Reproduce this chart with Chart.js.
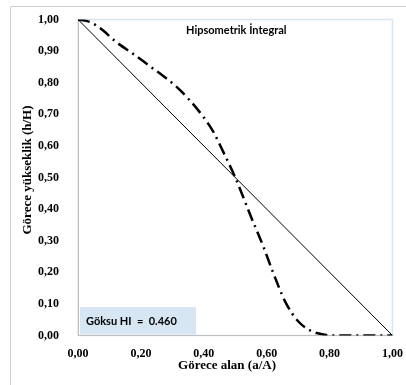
<!DOCTYPE html>
<html>
<head>
<meta charset="utf-8">
<script src="https://cdn.jsdelivr.net/npm/chart.js@4.4.1/dist/chart.umd.min.js"></script>
<style>
  html, body { margin: 0; padding: 0; background: #ffffff; }
  #wrap { position: relative; width: 406px; height: 385px; }
  canvas { display: block; }
</style>
</head>
<body>
<div id="wrap"><canvas id="c" width="406" height="385"></canvas></div>
<script>
// Hypsometric curve: relative area (a/A) against relative height (h/H)
const relArea   = [0.00, 0.03, 0.06, 0.08, 0.12, 0.18, 0.23, 0.27, 0.31, 0.35, 0.40, 0.43, 0.46, 0.50, 0.55, 0.59, 0.62, 0.66, 0.70, 0.74, 0.78, 0.82, 0.90, 1.00];
const relHeight = [1.00, 0.995, 0.98, 0.965, 0.93, 0.888, 0.851, 0.822, 0.79, 0.75, 0.69, 0.645, 0.585, 0.50, 0.376, 0.28, 0.20, 0.105, 0.045, 0.015, 0.003, 0.00, 0.00, 0.00];

// Reference diagonal (HI = 0.5)
const diagArea   = [0.00, 1.00];
const diagHeight = [1.00, 0.00];

const axisTicks = [0, 0.1, 0.2, 0.3, 0.4, 0.5, 0.6, 0.7, 0.8, 0.9, 1.0];
const chartTitle = 'Hipsometrik İntegral';
const xTitle = 'Görece alan (a/A)';
const yTitle = 'Görece yükseklik (h/H)';
const hiLabel = 'Göksu HI  =  0.460';

const serif = 'Liberation Serif, Times New Roman, serif';
const fmt = v => v.toFixed(2).replace('.', ',');

const decor = {
  id: 'decor',
  beforeDraw(chart) {
    const ctx = chart.ctx;
    const a = chart.chartArea;
    ctx.save();
    // outer frame
    ctx.strokeStyle = '#d0d0d0';
    ctx.lineWidth = 1;
    ctx.beginPath();
    ctx.moveTo(10.5, 385);
    ctx.lineTo(10.5, 6.5);
    ctx.lineTo(406, 6.5);
    ctx.stroke();
    // plot area frame
    ctx.strokeStyle = '#d6e6f3';
    ctx.lineWidth = 1.5;
    ctx.strokeRect(a.left, a.top, a.right - a.left, a.bottom - a.top);
    // HI box
    const ys = chart.scales.y;
    ctx.fillStyle = '#d6e6f3';
    ctx.fillRect(a.left + 2, ys.getPixelForValue(0.09), 116, ys.getPixelForValue(0.003) - ys.getPixelForValue(0.09));
    ctx.restore();
  },
  afterDraw(chart) {
    const ctx = chart.ctx;
    const ys = chart.scales.y;
    ctx.save();
    ctx.fillStyle = '#000';
    ctx.textBaseline = 'middle';
    // chart title
    ctx.font = 'bold 11px Lato, "Open Sans", sans-serif';
    ctx.textAlign = 'left';
    ctx.fillText(chartTitle, 186, 30);
    // HI label
    ctx.font = 'bold 11px Lato, "Open Sans", sans-serif';
    ctx.fillText(hiLabel, 86, ys.getPixelForValue(0.046));
    // axis titles
    ctx.font = 'bold 13px ' + serif;
    ctx.textAlign = 'center';
    ctx.fillText(xTitle, 227, 366);
    ctx.translate(28, 170);
    ctx.rotate(-Math.PI / 2);
    ctx.fillText(yTitle, 0, 0);
    ctx.restore();
  }
};

new Chart(document.getElementById('c'), {
  type: 'scatter',
  data: {
    datasets: [
      {
        label: 'Diagonal',
        data: diagArea.map((x, i) => ({ x, y: diagHeight[i] })),
        showLine: true,
        borderColor: '#000',
        borderWidth: 1,
        pointRadius: 0,
        order: 2
      },
      {
        label: 'Göksu',
        data: relArea.map((x, i) => ({ x, y: relHeight[i] })),
        showLine: true,
        borderColor: '#000',
        borderWidth: 2.5,
        borderDash: [12, 5, 2, 5],
        cubicInterpolationMode: 'monotone',
        pointRadius: 0,
        order: 1
      }
    ]
  },
  plugins: [decor],
  options: {
    responsive: false,
    animation: false,
    devicePixelRatio: 1,
    layout: { padding: { left: 0, right: 13, top: 19.5, bottom: 0 } },
    plugins: { legend: { display: false }, tooltip: { enabled: false } },
    scales: {
      x: {
        type: 'linear', min: 0, max: 1,
        afterFit(s) { s.height = 49.5; },
        afterBuildTicks(s) { s.ticks = axisTicks.filter((v, i) => i % 2 === 0).map(v => ({ value: v })); },
        grid: { display: false },
        border: { display: true, color: '#bfbfbf', width: 1 },
        ticks: {
          padding: 3,
          color: '#000',
          font: { family: serif, size: 12, weight: 'bold' },
          callback: v => fmt(v)
        }
      },
      y: {
        type: 'linear', min: 0, max: 1,
        afterFit(s) { s.width = 78; },
        afterBuildTicks(s) { s.ticks = axisTicks.map(v => ({ value: v })); },
        grid: { display: false },
        border: { display: true, color: '#bfbfbf', width: 1 },
        ticks: {
          padding: 11,
          color: '#000',
          font: { family: serif, size: 12, weight: 'bold' },
          callback: v => fmt(v)
        }
      }
    }
  }
});
</script>
</body>
</html>
